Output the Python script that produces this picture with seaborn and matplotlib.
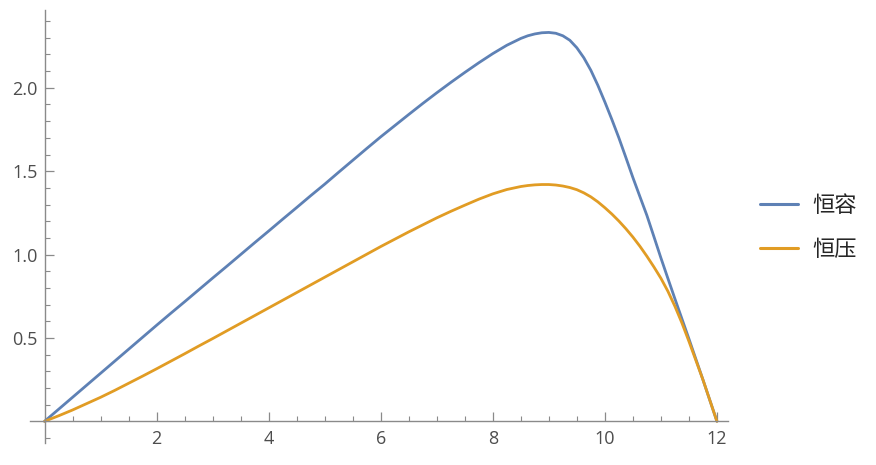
import numpy as np
import pandas as pd
import matplotlib.pyplot as plt
import seaborn as sns
from matplotlib.ticker import MultipleLocator, FixedLocator

# sample positions along x (denser around the peak)
x_vals = [0.00, 0.25, 0.50, 0.75, 1.00, 1.25, 1.50, 1.75, 2.00, 2.25, 2.50, 2.75,
          3.00, 3.25, 3.50, 3.75, 4.00, 4.25, 4.50, 4.75, 5.00, 5.25, 5.50, 5.75,
          6.00, 6.25, 6.50, 6.75, 7.00, 7.25, 7.50, 7.75, 8.00, 8.25,
          8.500, 8.625, 8.750, 8.875, 9.000, 9.125, 9.250, 9.375, 9.500, 9.625,
          9.750, 9.875, 10.000, 10.125, 10.250, 10.375, 10.500, 10.625, 10.750,
          10.875, 11.000, 11.125, 11.250, 11.375, 11.500, 11.75, 12.00]

# 恒容 (blue)
heng_rong = [0.000, 0.072, 0.144, 0.216, 0.288, 0.360, 0.432, 0.504, 0.576, 0.647,
             0.717, 0.788, 0.859, 0.929, 1.000, 1.071, 1.141, 1.212, 1.282, 1.353,
             1.422, 1.494, 1.565, 1.636, 1.706, 1.773, 1.840, 1.906, 1.970, 2.032,
             2.092, 2.150, 2.205, 2.255,
             2.296, 2.312, 2.323, 2.330, 2.332, 2.327, 2.312, 2.285, 2.240, 2.180,
             2.105, 2.015, 1.915, 1.810, 1.700, 1.582, 1.462, 1.348, 1.235,
             1.108, 0.980, 0.857, 0.735, 0.615, 0.495, 0.250, 0.000]

# 恒压 (orange)
heng_ya = [0.000, 0.033, 0.068, 0.106, 0.144, 0.185, 0.228, 0.271, 0.315, 0.360,
           0.405, 0.451, 0.496, 0.542, 0.588, 0.634, 0.680, 0.726, 0.772, 0.818,
           0.864, 0.910, 0.956, 1.002, 1.048, 1.092, 1.136, 1.178, 1.220, 1.259,
           1.296, 1.332, 1.364, 1.390,
           1.408, 1.414, 1.418, 1.420, 1.420, 1.417, 1.411, 1.402, 1.389, 1.370,
           1.346, 1.316, 1.281, 1.243, 1.201, 1.155, 1.105, 1.050, 0.990,
           0.926, 0.858, 0.780, 0.690, 0.590, 0.480, 0.250, 0.000]

labels = ['恒容', '恒压']
colors = ['#5E81B5', '#E19C24']

df = pd.concat([
    pd.DataFrame({'x': x_vals, 'y': heng_rong, 'series': labels[0]}),
    pd.DataFrame({'x': x_vals, 'y': heng_ya, 'series': labels[1]}),
])

sns.set_style('white')
plt.rcParams['font.family'] = ['Open Sans', 'Noto Sans CJK SC', 'DejaVu Sans']

fig = plt.figure(figsize=(8.76, 4.65), dpi=100)
ax = fig.add_axes([0.0342, 0.0473, 0.797, 0.931])

sns.lineplot(data=df, x='x', y='y', hue='series', palette=colors,
             linewidth=2.0, sort=False, legend=False, ax=ax)

ax.set_xlim(-0.26, 12.2)
ax.set_ylim(-0.13, 2.466)
ax.set_xlabel('')
ax.set_ylabel('')

# Mathematica-style axes crossing at the origin
axis_col = '#8a8a8a'
for side in ['top', 'right']:
    ax.spines[side].set_visible(False)
for side in ['left', 'bottom']:
    ax.spines[side].set_position(('data', 0))
    ax.spines[side].set_color(axis_col)
    ax.spines[side].set_linewidth(1.0)

ax.xaxis.set_major_locator(FixedLocator([2, 4, 6, 8, 10, 12]))
ax.xaxis.set_minor_locator(MultipleLocator(0.5))
ax.yaxis.set_major_locator(FixedLocator([0.5, 1.0, 1.5, 2.0]))
ax.yaxis.set_minor_locator(MultipleLocator(0.1))
ax.set_yticklabels(['0.5', '1.0', '1.5', '2.0'])

ax.tick_params(which='both', bottom=True, left=True, top=False, right=False)
ax.tick_params(which='major', direction='in', length=6.5, width=0.9,
               color=axis_col, labelsize=13, labelcolor='#4d4d4d')
ax.tick_params(which='minor', direction='in', length=3.6, width=0.8,
               color=axis_col)
ax.tick_params(axis='x', which='major', pad=6)
ax.tick_params(axis='y', which='major', pad=5)

handles = [plt.Line2D([], [], color=c, linewidth=2.2) for c in colors]
ax.legend(handles, labels, loc='center left', bbox_to_anchor=(0.8676, 0.511),
          bbox_transform=fig.transFigure, frameon=False,
          handlelength=1.7, handletextpad=0.65, labelspacing=0.95,
          borderpad=0, borderaxespad=0,
          prop={'family': ['Noto Sans CJK SC', 'DejaVu Sans'], 'size': 16})

fig.savefig('out.png', dpi=100)
